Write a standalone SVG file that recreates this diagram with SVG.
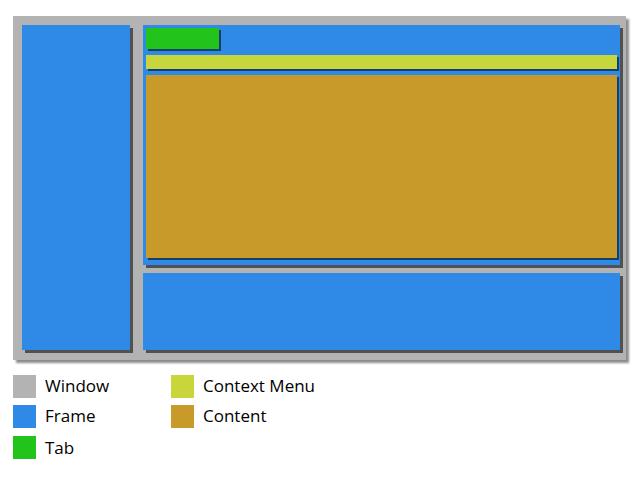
<svg xmlns="http://www.w3.org/2000/svg" width="640" height="480" viewBox="0 0 640 480">
<defs>
<filter id="shw" x="-5%" y="-5%" width="115%" height="120%">
<feDropShadow dx="3" dy="3" stdDeviation="1" flood-color="#000" flood-opacity="0.45"/>
</filter>
<filter id="sh" x="-5%" y="-5%" width="115%" height="120%">
<feDropShadow dx="3" dy="3" stdDeviation="0.7" flood-color="#000" flood-opacity="0.55"/>
</filter>
<filter id="sh2" x="-5%" y="-5%" width="115%" height="120%">
<feDropShadow dx="2" dy="2" stdDeviation="0.6" flood-color="#000" flood-opacity="0.55"/>
</filter>
</defs>
<style>
.win{fill:#b3b3b3}
.frame{fill:#2e8ae6}
.tab{fill:#22c41b}
.menu{fill:#c8d63c}
.content{fill:#c89a2a}
.lbl{font-family:"Open Sans","Noto Sans",sans-serif;font-size:17px;fill:#000}
</style>
<rect width="640" height="480" fill="#fff"/>
<g id="window"><rect class="win" x="13" y="16" width="613" height="344" filter="url(#shw)"/></g>
<g id="frame-left"><rect class="frame" x="22" y="25" width="108" height="325" filter="url(#sh)"/></g>
<g id="frame-top"><rect class="frame" x="143" y="25" width="477" height="240" filter="url(#sh)"/></g>
<g id="frame-bottom"><rect class="frame" x="143" y="273" width="477" height="77" filter="url(#sh)"/></g>
<g id="tab"><rect class="tab" x="146" y="28" width="73" height="21" filter="url(#sh2)"/></g>
<g id="context-menu"><rect class="menu" x="146" y="55" width="471" height="14" filter="url(#sh2)"/></g>
<g id="content"><rect class="content" x="146" y="75" width="471" height="183" filter="url(#sh2)"/></g>
<g id="connectors"></g>
<g id="legend">
<rect class="win" x="13" y="375" width="23" height="23"/>
<text class="lbl" x="45" y="392">Window</text>
<rect class="frame" x="13" y="405" width="23" height="23"/>
<text class="lbl" x="45" y="422">Frame</text>
<rect class="tab" x="13" y="436" width="23" height="23"/>
<text class="lbl" x="45" y="454">Tab</text>
<rect class="menu" x="171" y="375" width="23" height="23"/>
<text class="lbl" x="203" y="392">Context Menu</text>
<rect class="content" x="171" y="405" width="23" height="23"/>
<text class="lbl" x="203" y="422">Content</text>
</g>
</svg>
